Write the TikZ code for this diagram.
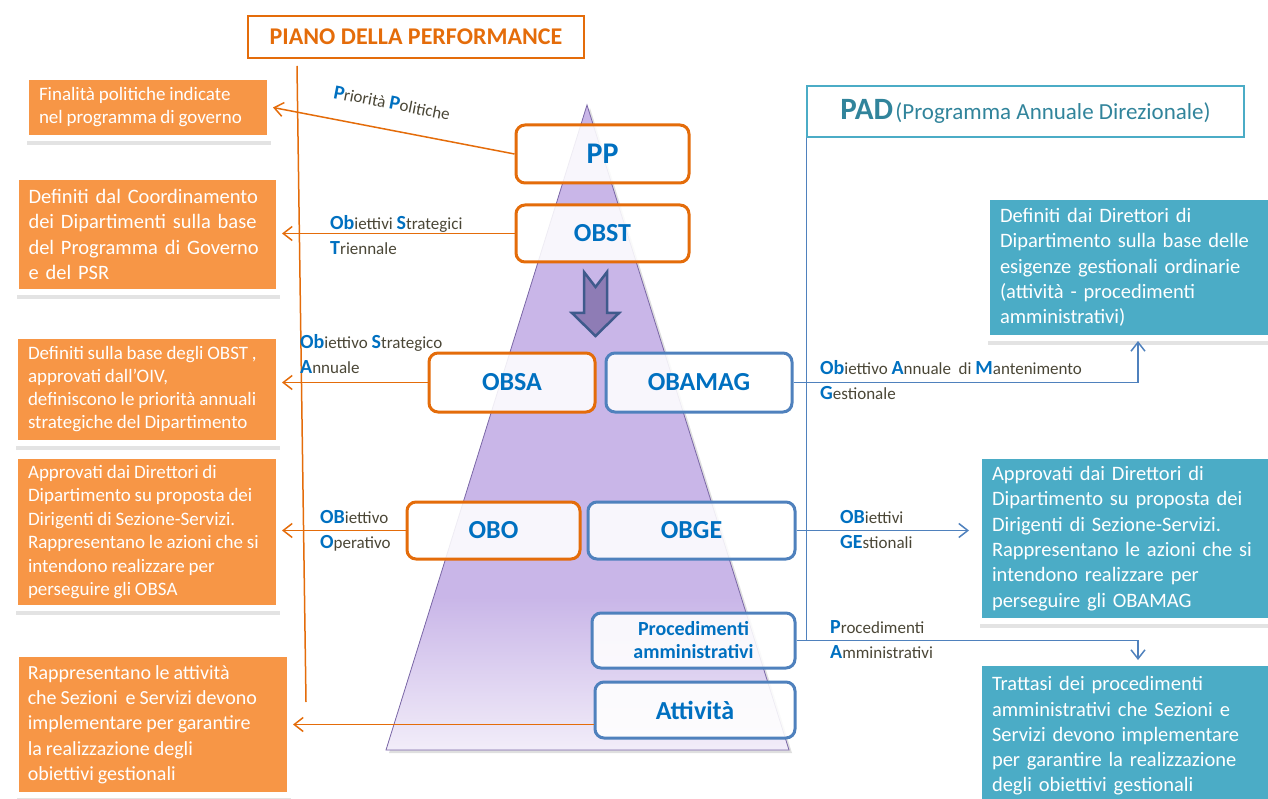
\documentclass[tikz,border=0pt]{standalone}
\usepackage{fontspec}
\setmainfont{Carlito}
\usetikzlibrary{arrows.meta,shadows}

\definecolor{orfill}{HTML}{F79646}
\definecolor{orline}{HTML}{E46C0A}
\definecolor{tlfill}{HTML}{4BACC6}
\definecolor{tltext}{HTML}{31849B}
\definecolor{blline}{HTML}{4F81BD}
\definecolor{bltext}{HTML}{0070C0}
\definecolor{lbtext}{HTML}{4A4636}
\definecolor{pyrfill}{HTML}{C9B6E8}
\definecolor{pyrlow}{HTML}{F2EDF9}
\definecolor{pyredge}{HTML}{7A67A6}
\definecolor{dnfill}{HTML}{8E7CB5}
\definecolor{dnline}{HTML}{3F5A8C}

\newcommand\fsz[2]{\fontsize{#1}{#2}\selectfont}
\newcommand\tight{\spaceskip=.2em\relax}
\newcommand\hl[1]{{\color{bltext}\bfseries\fsz{20}{25}#1}}

\begin{document}
\begin{tikzpicture}[x=1pt,y=-1pt,
  obox/.style={fill=orfill,draw=white,line width=6pt,text=white,align=left,
    inner xsep=13pt,inner ysep=0pt,anchor=north west,
    drop shadow={shadow xshift=1pt,shadow yshift=-7pt,opacity=.22}},
  tbox/.style={obox,fill=tlfill,inner xsep=13pt},
  lvl/.style={rounded corners=9pt,line width=3pt,fill=white,fill opacity=.88,
    text opacity=1,text=bltext,font=\bfseries\fsz{26}{28}},
  olvl/.style={lvl,draw=orline},
  blvl/.style={lvl,draw=blline},
  lbl/.style={text=lbtext,font=\fsz{17}{25},align=left,inner sep=0pt,anchor=north west},
  oarr/.style={draw=orline,line width=1.5pt,-{Straight Barb[length=9pt,width=14pt]}},
  barr/.style={draw=blline,line width=1.5pt,-{Straight Barb[length=9pt,width=14pt]}}
]
\useasboundingbox (0,0) rectangle (1268,799);

\fill[pyrfill,drop shadow={shadow xshift=3pt,shadow yshift=-3pt,opacity=.25}] (587,105) -- (789,750) -- (386,750) -- cycle;
\begin{scope}
\clip (587,105) -- (789,750) -- (386,750) -- cycle;
\shade[top color=pyrfill,bottom color=pyrlow] (380,597) rectangle (795,750);
\end{scope}
\draw[pyredge,line width=.8pt] (587,105) -- (789,750) -- (386,750) -- cycle;
\draw[dnline,fill=dnfill,line width=2.5pt] (584,272) -- (595.5,287) -- (607,272) -- (607,313) -- (619,313) -- (595.5,336) -- (572,313) -- (584,313) -- cycle;

\node[draw=orline,line width=1.2pt,text=orline,font=\bfseries\fsz{24}{24},minimum width=336pt,minimum height=42pt] (piano) at (416,37) {PIANO DELLA PERFORMANCE};
\node[draw=tlfill,line width=1.2pt,text=tltext,minimum width=437pt,minimum height=51pt] (pad) at (1025.5,111.5) {{\bfseries\fsz{31}{31}PAD} {\fsz{23}{23}(Programma Annuale Direzionale)}};

\draw[orline,line width=1.5pt] (297,66) -- (306,702);

\node[obox,text width=218pt,minimum height=61pt,font=\fsz{19}{23}] (f1) at (23,74) {\tight Finalità politiche indicate\\nel programma di governo};
\node[obox,text width=237.5pt,minimum height=115pt,font=\fsz{20.5}{25.5}] (f2) at (12.5,174) {Definiti dal Coordinamento\\dei Dipartimenti sulla base\\del Programma di Governo\\e del PSR};
\node[obox,text width=238pt,minimum height=107pt,font=\fsz{19}{23}] (f3) at (12,333) {\tight Definiti sulla base degli OBST ,\\approvati dall’OIV,\\definiscono le priorità annuali\\strategiche del Dipartimento};
\node[obox,text width=238pt,minimum height=152pt,font=\fsz{19}{23.5}] (f4) at (12,453) {\tight Approvati dai Direttori di\\Dipartimento su proposta dei\\Dirigenti di Sezione-Servizi.\\Rappresentano le azioni che si\\intendono realizzare per\\perseguire gli OBSA};
\node[obox,text width=250pt,inner xsep=12.25pt,minimum height=141pt,font=\fsz{20}{25.3}] (f5) at (12.5,651) {\tight Rappresentano le attività\\che Sezioni\ \ e Servizi devono\\implementare per garantire\\la realizzazione degli\\obiettivi gestionali};

\node[tbox,text width=276pt,minimum height=141pt,font=\fsz{20.5}{25.3}] (rb1) at (984,194) {Definiti dai Direttori di\\Dipartimento sulla base delle\\esigenze gestionali ordinarie\\(attività - procedimenti\\amministrativi)};
\node[tbox,text width=294pt,minimum height=165pt,font=\fsz{20.5}{25.4}] (rb2) at (976,453) {Approvati dai Direttori di\\Dipartimento su proposta dei\\Dirigenti di Sezione-Servizi.\\Rappresentano le azioni che si\\intendono realizzare per\\perseguire gli OBAMAG};
\node[tbox,text width=292pt,minimum height=146pt,font=\fsz{20.5}{25.3}] (rb3) at (976,660) {Trattasi dei procedimenti\\amministrativi che Sezioni e\\Servizi devono implementare\\per garantire la realizzazione\\degli obiettivi gestionali};

\node[olvl,minimum width=173pt,minimum height=58pt,font=\bfseries\fsz{30}{30}] (pp) at (602.5,154) {PP};
\node[olvl,minimum width=173pt,minimum height=57pt] (obst) at (602.5,233.5) {OBST};
\node[olvl,minimum width=166pt,minimum height=59pt] (obsa) at (512,382.5) {OBSA};
\node[blvl,minimum width=186pt,minimum height=59pt] (obamag) at (699,382.5) {OBAMAG};
\node[olvl,minimum width=173pt,minimum height=57pt] (obo) at (493.5,530.5) {OBO};
\node[blvl,minimum width=207pt,minimum height=57pt] (obge) at (691.5,530.5) {OBGE};
\node[blvl,minimum width=203pt,minimum height=55pt,align=center,font=\bfseries\fsz{20}{23}] (proc) at (693.5,640.5) {Procedimenti\\amministrativi};
\node[blvl,minimum width=200pt,minimum height=56pt] (att) at (695,710) {Attività};

\draw[blline,line width=1.5pt] (pad.south west) -- (pad.south west |- proc.east);

\draw[oarr] (pp.west) -- (f1.east);
\foreach \a/\b in {obst/f2,obsa/f3,obo/f4}
\draw[oarr] (\a.west) -- (\a.west -| \b.east);
\draw[oarr] (f5.east -| att.west) -- (f5.east);
\draw[barr] (obamag.east) -| (rb1.south);
\draw[barr,shorten >=7pt] (obge.east) -- (obge.east -| rb2.west);
\draw[barr] (proc.east) -| (rb3.north);

\node[lbl,rotate=-11,anchor=center] (lpp) at (392,103) {\hl{P}riorità\ \hl{P}olitiche};
\node[lbl] (lobst) at (330,215) {\hl{Ob}iettivi \hl{S}trategici\\\hl{T}riennale};
\node[lbl] (lobsa) at (300,334) {\hl{Ob}iettivo \hl{S}trategico\\\hl{A}nnuale};
\node[lbl] (lobo) at (320,510) {\hl{OB}iettivo\\\hl{O}perativo};
\node[lbl] (lobamag) at (820,360) {\hl{Ob}iettivo \hl{A}nnuale\ \ di \hl{M}antenimento\\\hl{G}estionale};
\node[lbl] (lobge) at (840,510) {\hl{OB}iettivi\\\hl{GE}stionali};
\node[lbl] (lproc) at (830,620) {\hl{P}rocedimenti\\\hl{A}mministrativi};
\end{tikzpicture}
\end{document}
